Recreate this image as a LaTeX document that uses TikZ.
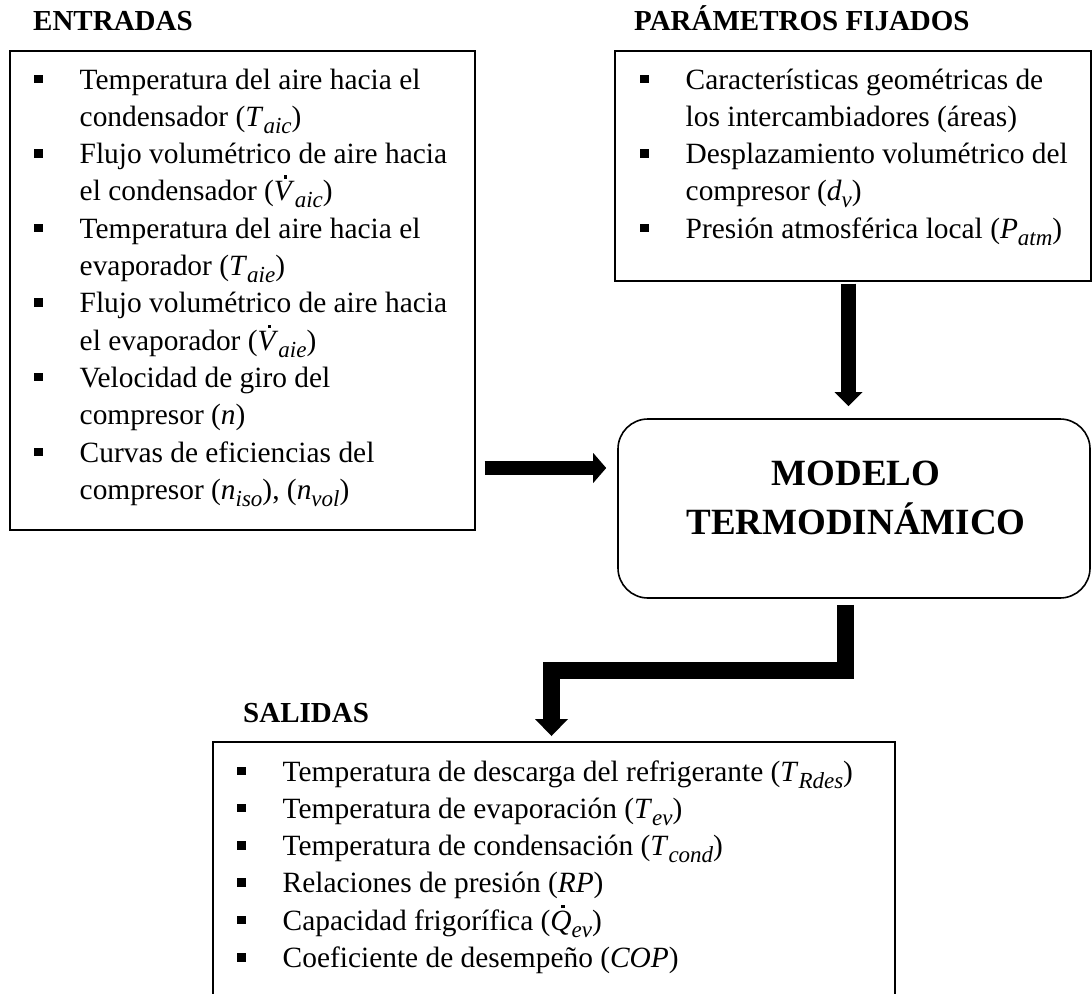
\documentclass[tikz,border=0pt]{standalone}
\usepackage{fontspec}
\setmainfont{Liberation Serif}
\usetikzlibrary{arrows.meta}
% square list marker and item indent
\newcommand\sqb{\rule[6pt]{8.5pt}{8.5pt}}
\newcommand\itm{\makebox[45.5pt][l]{\sqb}}
% lowered italic index
\newcommand\idx[1]{\raisebox{-7pt}{\fontsize{23}{23}\selectfont\itshape #1}}
% variable with subscript, and with a dot above (#1 = dot offset)
\newcommand\mv[2]{\textit{#1}\idx{#2}}
\newcommand\dv[3]{\makebox[0pt][l]{\hspace{#1}\rule[22pt]{3.5pt}{3.5pt}}\textit{#2}\idx{#3}}
\begin{document}
\begin{tikzpicture}[x=1pt,y=-1pt,
  frame/.style={draw, line width=1.6pt, inner sep=0pt, anchor=north west},
  head/.style={font=\fontsize{29}{35}\selectfont\bfseries, anchor=base west, inner sep=0pt},
  body/.style={font=\fontsize{29.4}{37.3}\selectfont, anchor=base west, inner sep=0pt},
  fat/.style={line width=#1, line join=miter}]
\useasboundingbox (0,0) rectangle (1092,993);
\clip (0,0) rectangle (1092,993);

% ---- inputs ----
\node[head] (entlbl) at (33,30) {ENTRADAS};
\node[frame, minimum width=465pt, minimum height=479pt] (ent) at (9,50) {};
\node[body] (enttxt) at (34,89) {\begin{tabular}[t]{@{}l@{}l@{}}
\itm & Temperatura del aire hacia el\\
     & condensador (\mv{T}{aic})\\
\itm & Flujo volumétrico de aire hacia\\
     & el condensador (\dv{10pt}{V}{aic})\\
\itm & Temperatura del aire hacia el\\
     & evaporador (\mv{T}{aie})\\
\itm & Flujo volumétrico de aire hacia\\
     & el evaporador (\dv{10pt}{V}{aie})\\
\itm & Velocidad de giro del\\
     & compresor (\textit{n})\\
\itm & Curvas de eficiencias del\\
     & compresor (\mv{n}{iso}), (\mv{n}{vol})
\end{tabular}};

% ---- fixed parameters ----
\node[head] (parlbl) at (634,30) {PARÁMETROS FIJADOS};
\node[frame, minimum width=476pt, minimum height=230pt] (par) at (614,50) {};
\node[body] (partxt) at (640,89) {\begin{tabular}[t]{@{}l@{}l@{}}
\itm & Características geométricas de\\
     & los intercambiadores (áreas)\\
\itm & Desplazamiento volumétrico del\\
     & compresor (\mv{d}{v})\\
\itm & Presión atmosférica local (\mv{P}{atm})
\end{tabular}};

% ---- model ----
\node[draw, line width=1.6pt, rounded corners=30pt, minimum width=472pt,
      minimum height=179pt, inner sep=0pt] (mod) at (854,508.5) {};
\node[font=\fontsize{37}{49}\selectfont\bfseries, anchor=base, inner sep=0pt]
  (modtxt) at (856,485) {\begin{tabular}[t]{@{}c@{}}MODELO\\TERMODINÁMICO\end{tabular}};

% ---- outputs ----
\node[head] (sallbl) at (243,722) {SALIDAS};
\node[frame, minimum width=682pt, minimum height=290pt] (sal) at (212,741) {};
\node[body] (saltxt) at (237,781) {\begin{tabular}[t]{@{}l@{}l@{}}
\itm & Temperatura de descarga del refrigerante (\mv{T}{Rdes})\\
\itm & Temperatura de evaporación (\mv{T}{ev})\\
\itm & Temperatura de condensación (\mv{T}{cond})\\
\itm & Relaciones de presión (\textit{RP})\\
\itm & Capacidad frigorífica (\dv{11pt}{Q}{ev})\\
\itm & Coeficiente de desempeño (\textit{COP})
\end{tabular}};

% ---- block arrows ----
\coordinate (ea) at (0,468);
\coordinate (pa) at (848.5,0);
\coordinate (c1) at (845.5,670.5);
\coordinate (c2) at (551.5,670.5);
\draw[fat=14pt, -{Triangle[length=13pt,width=30pt,line width=0pt]},
      shorten <=9pt, shorten >=11pt] (ent.east |- ea) -- (mod.west |- ea);
\draw[fat=15pt, -{Triangle[length=14pt,width=28pt,line width=0pt]},
      shorten <=2pt, shorten >=12pt] (par.south -| pa) -- (mod.north -| pa);
\draw[fat=17pt, -{Triangle[length=17pt,width=33pt,line width=0pt]},
      shorten <=6pt, shorten >=5pt] (mod.south -| c1) -- (c1) -- (c2) -- (sal.north -| c2);
\end{tikzpicture}
\end{document}
